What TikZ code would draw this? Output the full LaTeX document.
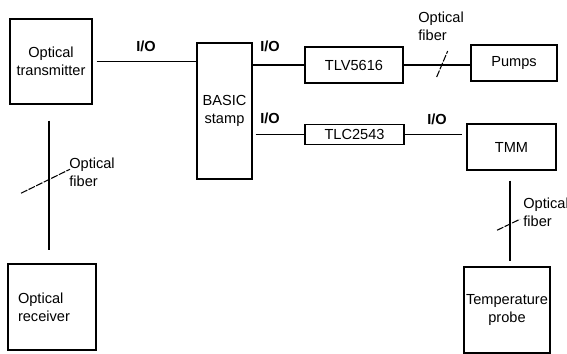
\documentclass[tikz,border=0pt]{standalone}
\usepackage{fontspec}
\setmainfont{Liberation Sans}
\usepackage{xcolor}
\usepackage{tikz}
\usetikzlibrary{positioning}

\begin{document}
\begin{tikzpicture}[
  x=0.02cm, y=-0.02cm,
  font=\fontsize{8.3}{10.2}\selectfont,
  box/.style={draw, line width=0.7pt, inner sep=1pt, align=center},
  link/.style={line width=0.6pt},
  cut/.style={line width=0.6pt, dash pattern=on 4pt off 0.8pt},
  iolabel/.style={font=\fontsize{8.3}{10.2}\selectfont\bfseries, inner sep=0pt},
  note/.style={align=left, inner sep=0pt, anchor=west}
]
  \useasboundingbox (0,0) rectangle (567,354);

  % blocks
  \node[box, minimum width=1.64cm, minimum height=1.70cm] (tx) at (51,61.5) {Optical\\transmitter};
  \node[box, minimum width=1.10cm, minimum height=2.72cm] (stamp) at (224.5,111) {BASIC\\stamp};
  \node[box, minimum width=1.96cm, minimum height=0.72cm] (tlv) at (354,65) {TLV5616};
  \node[box, minimum width=1.72cm, minimum height=0.72cm] (pumps) at (514,63) {Pumps};
  \node[box, minimum width=1.98cm, minimum height=0.40cm] (tlc) at (354.5,134.5) {TLC2543};
  \node[box, minimum width=1.78cm, minimum height=0.92cm] (tmm) at (511.5,147) {TMM};
  \node[box, minimum width=1.72cm, minimum height=1.72cm] (probe) at (507,310) {Temperature\\probe};
  \node[box, minimum height=1.72cm, text width=1.36cm, inner xsep=0.2cm, align=left] (rx) at (52,307) {Optical\\receiver};

  % links
  \draw[link] ([xshift=0.08cm]tx.east) -- (stamp.west |- tx.east);
  \draw[link] (stamp.east |- tlv.west) -- (tlv.west);
  \draw[link] ([xshift=0.06cm]stamp.east |- tlc.west) -- (tlc.west);
  \draw[link] (tlv.east) -- (tlv.east -| pumps.west) coordinate[pos=0.57] (f2);
  \draw[link] (tlc.east) -- ([xshift=-0.08cm]tlc.east -| tmm.west);
  \draw[link, shorten <=0.32cm, shorten >=0.26cm] ([xshift=-0.04cm]tx.south) -- ([xshift=-0.04cm]tx.south |- rx.north) coordinate[pos=0.47] (f1);
  \draw[link, shorten <=0.2cm, shorten >=0.1cm] ([xshift=-0.03cm]tmm.south) -- ([xshift=-0.03cm]tmm.south |- probe.north) coordinate[pos=0.56] (f3);

  % fiber cuts
  \draw[cut] (f1) ++(-28,14) -- ++(49,-24);
  \draw[cut] (f2) ++(-5,12) -- ++(11,-26);
  \draw[cut] (f3) ++(-13,6) -- ++(23,-11);

  % labels
  \node[iolabel] (io1) at (146,46) {I/O};
  \node[iolabel] (io2) at (270,46) {I/O};
  \node[iolabel] (io3) at (270,118) {I/O};
  \node[iolabel] (io4) at (437,119) {I/O};
  \node[note] (fib1) at (69,172) {Optical\\fiber};
  \node[note] (fib2) at (418,26) {Optical\\fiber};
  \node[note] (fib3) at (523,212.5) {Optical\\fiber};
\end{tikzpicture}
\end{document}
